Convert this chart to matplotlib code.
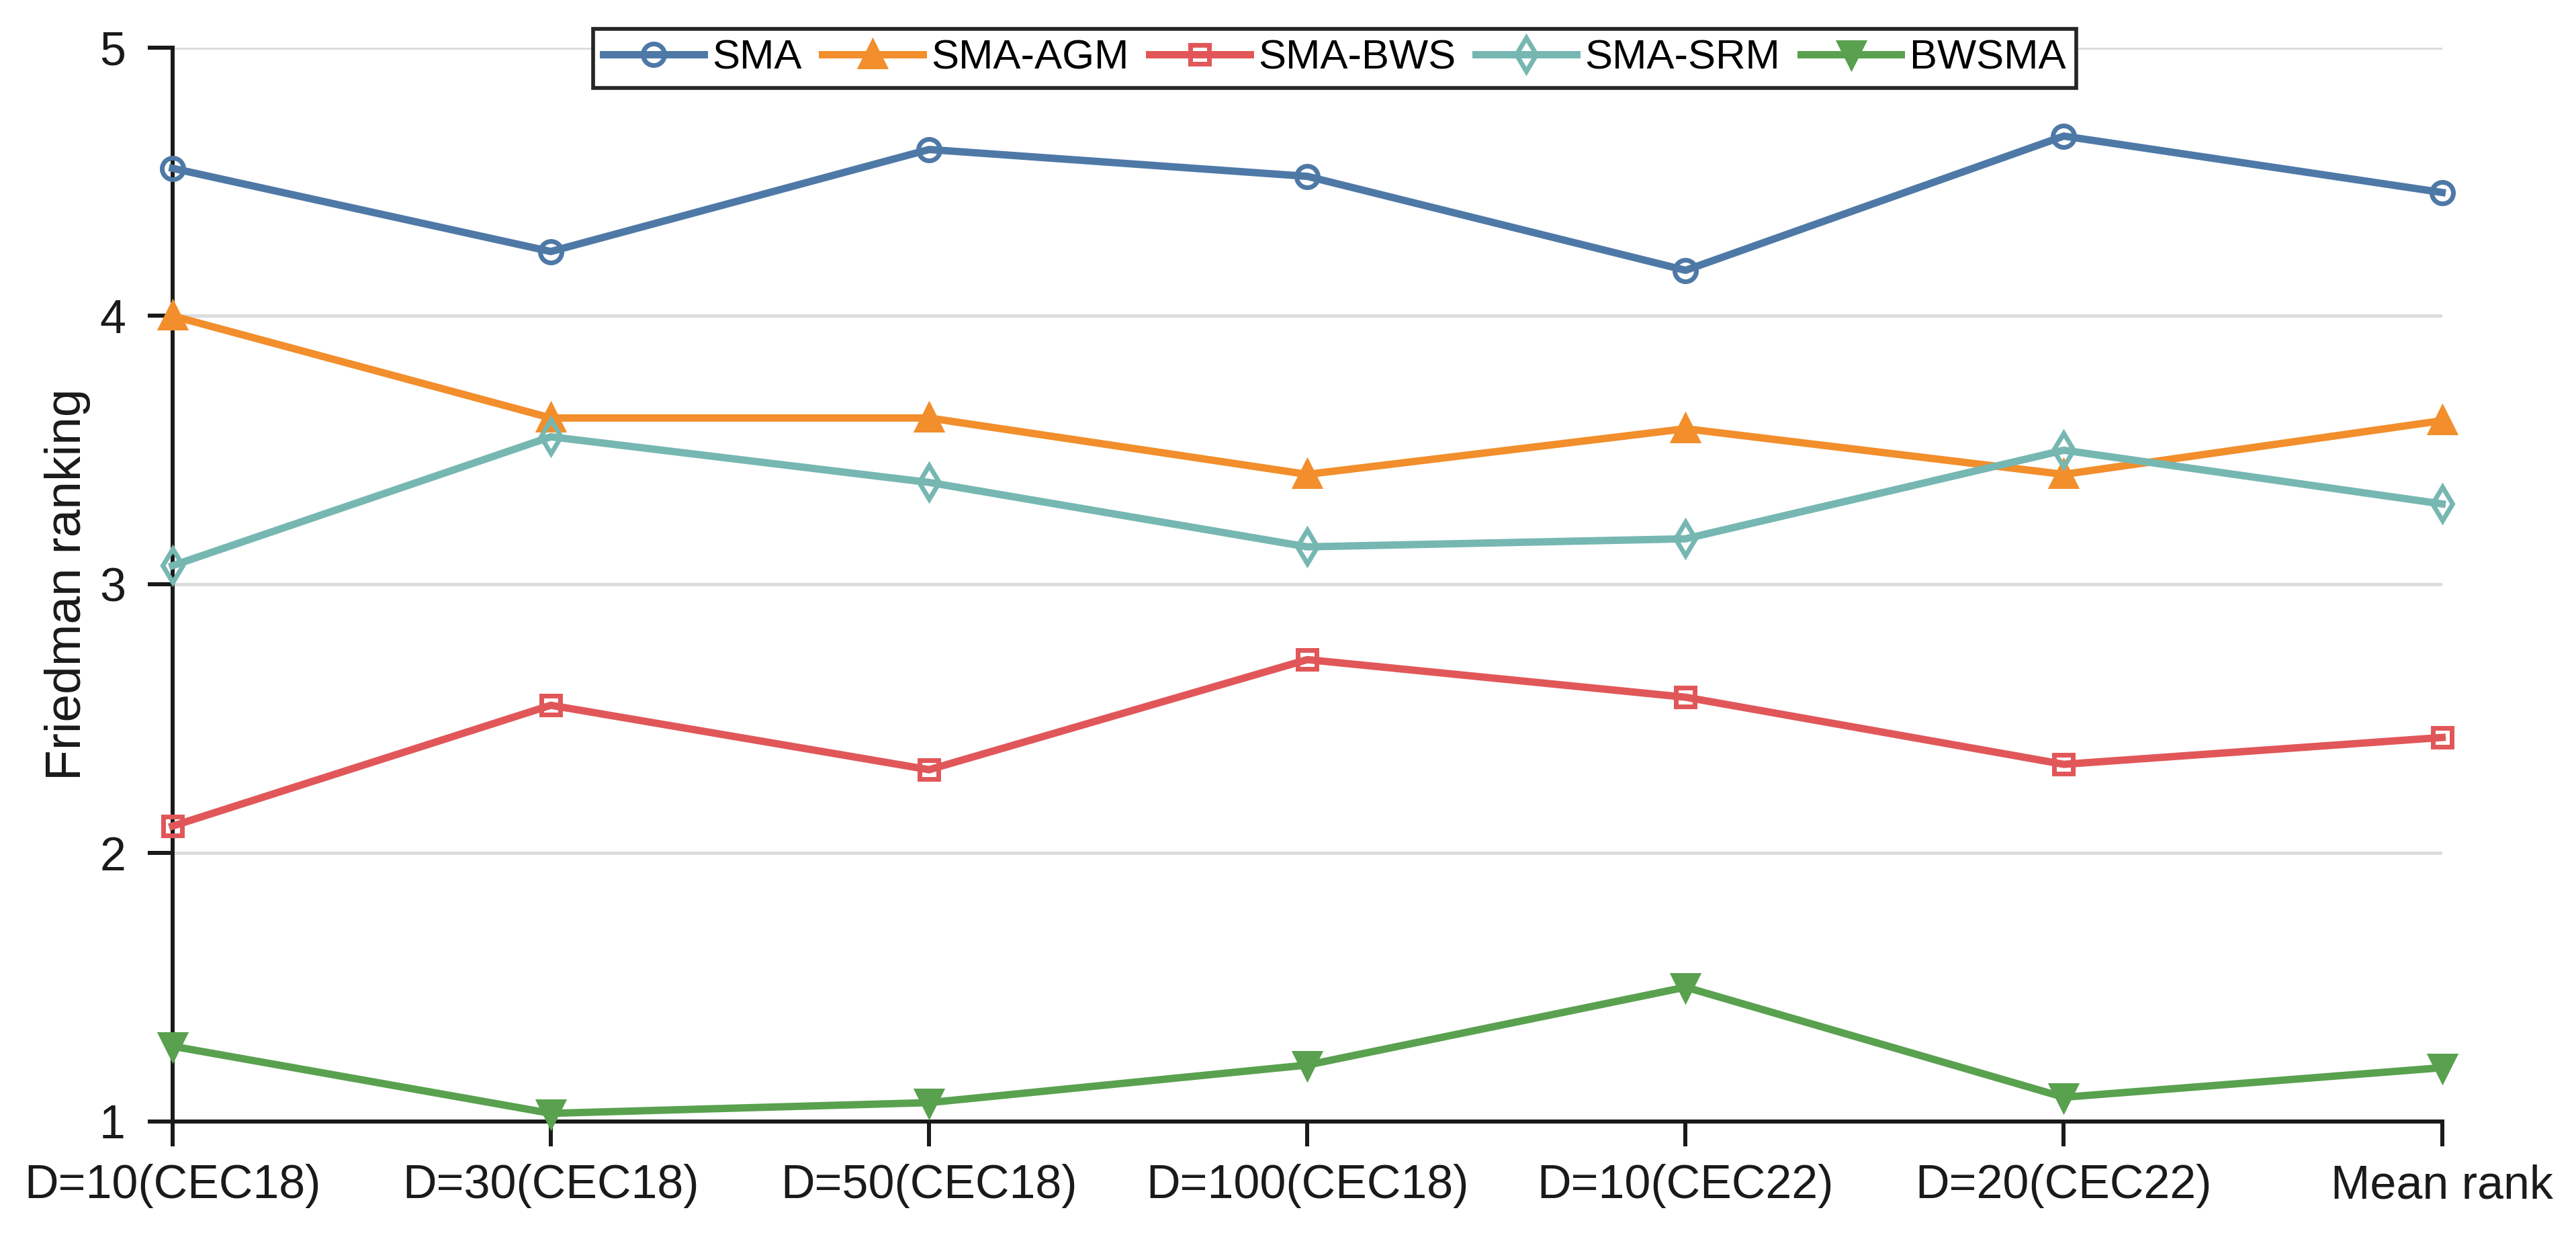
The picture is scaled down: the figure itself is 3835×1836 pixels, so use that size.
import numpy as np
import matplotlib
matplotlib.use('Agg')
import matplotlib.pyplot as plt

plt.rcParams['font.family'] = ['Liberation Sans', 'DejaVu Sans']

categories = ['D=10(CEC18)', 'D=30(CEC18)', 'D=50(CEC18)', 'D=100(CEC18)',
              'D=10(CEC22)', 'D=20(CEC22)', 'Mean rank']
sma = [4.55, 4.24, 4.62, 4.52, 4.17, 4.67, 4.46]
sma_agm = [4.00, 3.62, 3.62, 3.41, 3.58, 3.41, 3.61]
sma_bws = [2.10, 2.55, 2.31, 2.72, 2.58, 2.33, 2.43]
sma_srm = [3.07, 3.55, 3.38, 3.14, 3.17, 3.50, 3.30]
bwsma = [1.28, 1.03, 1.07, 1.21, 1.50, 1.09, 1.20]

# name, values, colour, marker, face, size
series = [
    ('SMA', sma, '#4E79A7', 'o', 'none', 9.6),
    ('SMA-AGM', sma_agm, '#F28E2B', '^', None, 11),
    ('SMA-BWS', sma_bws, '#E15759', 's', 'none', 8.5),
    ('SMA-SRM', sma_srm, '#76B7B2', 'd', 'none', 10.5),
    ('BWSMA', bwsma, '#59A14F', 'v', None, 11),
]

fig = plt.figure(figsize=(3835 / 240, 1836 / 240), dpi=240)
ax = fig.add_axes([0.067, 0.0905, 0.881, 0.871])

x = np.arange(len(categories))
for name, vals, col, mk, fc, ms in series:
    ax.plot(x, vals, color=col, lw=3.3, marker=mk, markersize=ms,
            markerfacecolor=col if fc is None else fc,
            markeredgecolor=col, markeredgewidth=2.1, label=name,
            clip_on=False, zorder=3)

ax.set_xlim(0, len(categories) - 1)
ax.set_ylim(1, 5)
ax.set_xticks(x)
ax.set_xticklabels(categories)
ax.set_yticks([1, 2, 3, 4, 5])
ax.grid(axis='y', color='#DCDCDC', lw=1.5, zorder=0)
ax.set_axisbelow(True)

for s in ['top', 'right']:
    ax.spines[s].set_visible(False)
for s in ['left', 'bottom']:
    ax.spines[s].set_linewidth(1.8)
    ax.spines[s].set_color('#1a1a1a')

ax.tick_params(axis='both', direction='out', length=11, width=1.8,
               color='#1a1a1a', labelcolor='#1a1a1a', labelsize=21)
ax.tick_params(axis='x', pad=8)
ax.tick_params(axis='y', pad=10)
ax.set_ylabel('Friedman ranking', fontsize=22.5, color='#1a1a1a', labelpad=4)

leg = ax.legend(loc='center', bbox_to_anchor=(0.512, 0.99), ncol=5,
                fontsize=18.5, frameon=True, fancybox=False,
                edgecolor='#262626', framealpha=1, handlelength=2.43,
                handletextpad=0.2, columnspacing=0.49, borderpad=0.25,
                borderaxespad=0)
leg.get_frame().set_linewidth(1.7)
leg.set_zorder(5)

fig.savefig('out.png', dpi=240)
